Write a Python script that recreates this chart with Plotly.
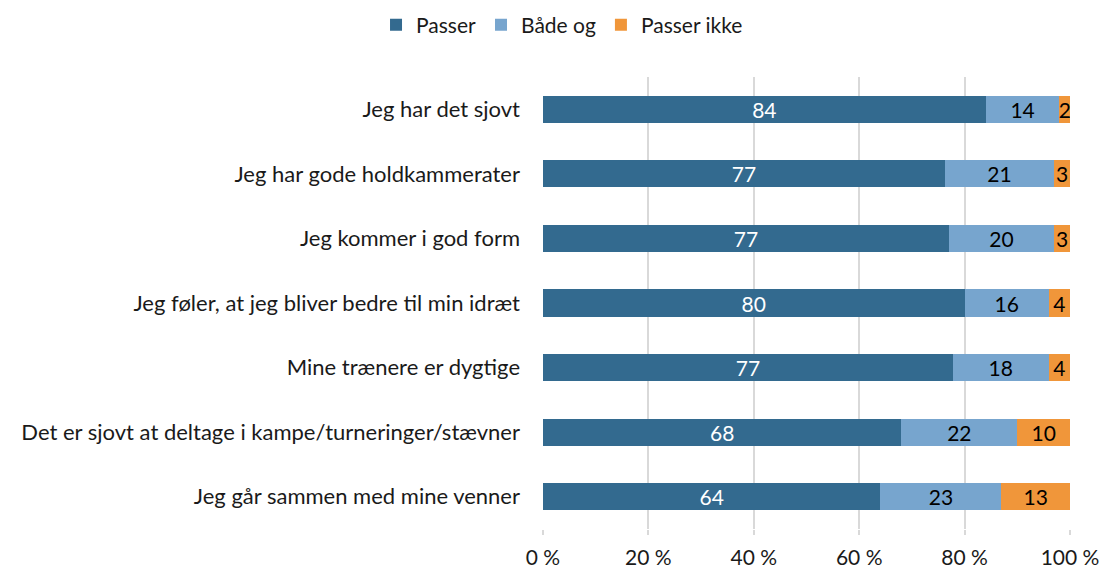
import plotly.graph_objects as go

categories = [
    "Jeg har det sjovt",
    "Jeg har gode holdkammerater",
    "Jeg kommer i god form",
    "Jeg føler, at jeg bliver bedre til min idræt",
    "Mine trænere er dygtige",
    "Det er sjovt at deltage i kampe/turneringer/stævner",
    "Jeg går sammen med mine venner",
]
passer = [84, 77, 77, 80, 77, 68, 64]
baade_og = [14, 21, 20, 16, 18, 22, 23]
passer_ikke = [2, 3, 3, 4, 4, 10, 13]

series = [
    ("Passer", passer, "#336A8F", "white"),
    ("Både og", baade_og, "#77A5CE", "black"),
    ("Passer ikke", passer_ikke, "#F0963A", "black"),
]

FONT = "Lato"
FS = 21
fig = go.Figure()
for name, vals, color, tcolor in series:
    fig.add_trace(go.Bar(
        name=name, y=categories, x=vals, orientation="h",
        marker=dict(color=color, line=dict(width=0)),
        text=vals, texttemplate="%{text}", textposition="inside",
        insidetextanchor="middle", textangle=0,
        insidetextfont=dict(color=tcolor, size=FS, family=FONT),
        constraintext="none",
    ))

fig.update_layout(
    barmode="stack", barnorm="percent", bargap=0.58,
    width=1102, height=570,
    margin=dict(l=543, r=32, t=77, b=41, autoexpand=False),
    paper_bgcolor="white", plot_bgcolor="white",
    font=dict(family=FONT, size=FS, color="#1a1a1a"),
    uniformtext=dict(minsize=FS, mode="show"),
    legend=dict(orientation="h", x=0.51, xanchor="center", xref="container",
                y=0.992, yanchor="top", yref="container",
                font=dict(size=FS), traceorder="normal", itemwidth=30),
    xaxis=dict(range=[0, 100], tickvals=[0, 20, 40, 60, 80, 100],
               ticktext=["0 %", "20 %", "40 %", "60 %", "80 %", "100 %"],
               showgrid=True, gridcolor="#D9D9D9", gridwidth=2,
               zeroline=False, ticks="outside", ticklen=5, tickcolor="#D9D9D9",
               tickwidth=2, ticklabelstandoff=5, fixedrange=True, automargin=False,
               tickfont=dict(size=FS)),
    yaxis=dict(autorange="reversed", showgrid=False, ticks="", ticklabelstandoff=22,
               showline=False, automargin=False, tickfont=dict(size=22)),
)
fig.write_html("out.html", config={"displayModeBar": False},
               post_script="document.body.style.margin='0';document.body.style.overflow='hidden';")
